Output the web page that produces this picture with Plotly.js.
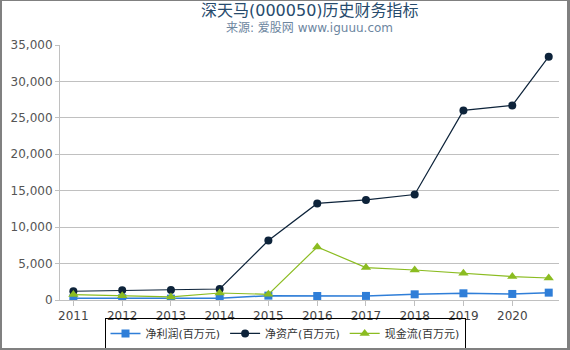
<!DOCTYPE html>
<html>
<head>
<meta charset="utf-8">
<script src="https://cdn.plot.ly/plotly-3.0.1.min.js"></script>
<style>
html,body{margin:0;padding:0;background:#fff;}
#wrap{position:relative;width:570px;height:350px;}
#chart{position:absolute;left:0;top:0;width:570px;height:350px;}
#frame{position:absolute;left:0;top:0;width:570px;height:350px;box-sizing:border-box;
border-top:1px solid #808080;border-left:2px solid #808080;border-right:3px solid #808080;border-bottom:2px solid #808080;pointer-events:none;}
</style>
</head>
<body>
<div id="wrap"><div id="chart"></div><div id="frame"></div></div>
<script>
// Report dates (annual reports plus latest quarter)
var periods = ['2011-12-31','2012-12-31','2013-12-31','2014-12-31','2015-12-31','2016-12-31','2017-12-31','2018-12-31','2019-12-31','2020-12-31','2021-09-30'];
var tickDates = ['2011-12-31','2012-12-31','2013-12-31','2014-12-31','2015-12-31','2016-12-31','2017-12-31','2018-12-31','2019-12-31','2020-12-31'];
var tickLabels = ['2011','2012','2013','2014','2015','2016','2017','2018','2019','2020'];
var seriesNames = ['净利润(百万元)','净资产(百万元)','现金流(百万元)'];
var netProfit = [250, 250, 190, 230, 600, 550, 560, 780, 920, 830, 1010];
var netAssets = [1200, 1330, 1370, 1510, 8160, 13250, 13740, 14480, 26020, 26710, 33390];
var cashFlow  = [740, 600, 420, 960, 780, 7280, 4450, 4120, 3670, 3210, 3020];
var titleText = '深天马(000050)历史财务指标';
var subtitleText = '来源: 爱股网 www.iguuu.com';

var traces = [
  {x: periods, y: netProfit, name: seriesNames[0], type: 'scatter', mode: 'lines+markers',
   line: {color: '#2f7ed8', width: 1.5}, marker: {symbol: 'square', size: 8, color: '#2f7ed8'}},
  {x: periods, y: netAssets, name: seriesNames[1], type: 'scatter', mode: 'lines+markers',
   line: {color: '#0d233a', width: 1.2}, marker: {symbol: 'circle', size: 8, color: '#0d233a'}},
  {x: periods, y: cashFlow, name: seriesNames[2], type: 'scatter', mode: 'lines+markers',
   line: {color: '#8bbc21', width: 1.2}, marker: {symbol: 'triangle-up', size: 9, color: '#8bbc21'}}
];

var cjkFont = 'DejaVu Sans, "Noto Sans CJK SC", sans-serif';
var layout = {
  width: 570, height: 350,
  margin: {l: 60, r: 11, t: 45, b: 50},
  paper_bgcolor: '#ffffff', plot_bgcolor: '#ffffff',
  font: {family: cjkFont, size: 12, color: '#444'},
  annotations: [
    {text: titleText, xref: 'paper', yref: 'paper', x: 0.5, y: 1.137, xanchor: 'center', yanchor: 'middle',
     showarrow: false, font: {family: cjkFont, size: 16, color: '#274b6d'}},
    {text: subtitleText, xref: 'paper', yref: 'paper', x: 0.5, y: 1.0667, xanchor: 'center', yanchor: 'middle',
     showarrow: false, font: {family: cjkFont, size: 12, color: '#6d869f'}}
  ],
  xaxis: {type: 'date', range: ['2011-09-22', '2021-12-16'],
    tickvals: tickDates, ticktext: tickLabels, tickangle: 0,
    showgrid: false, zeroline: false, showline: true, linecolor: '#c0c0c0', linewidth: 1,
    ticks: 'outside', ticklen: 5, tickcolor: '#c0c0c0',
    tickfont: {size: 12, color: '#444'}, fixedrange: true},
  yaxis: {range: [0, 35000], tickvals: [0,5000,10000,15000,20000,25000,30000,35000],
    tickformat: ',d', showgrid: true, gridcolor: '#c0c0c0', gridwidth: 1,
    zeroline: false, showline: true, linecolor: '#c0c0c0', linewidth: 1,
    ticks: 'outside', ticklen: 4, tickcolor: '#c0c0c0',
    tickfont: {size: 12, color: '#555'}, fixedrange: true},
  showlegend: true,
  legend: {orientation: 'h', x: 0.5, xanchor: 'center', xref: 'container',
    y: 0.003, yanchor: 'bottom', yref: 'container',
    bordercolor: '#000000', borderwidth: 1, bgcolor: 'rgba(255,255,255,0)',
    font: {size: 11, color: '#333'}, itemwidth: 30, tracegroupgap: 0}
};

Plotly.newPlot('chart', traces, layout, {displayModeBar: false, staticPlot: true});
</script>
</body>
</html>
